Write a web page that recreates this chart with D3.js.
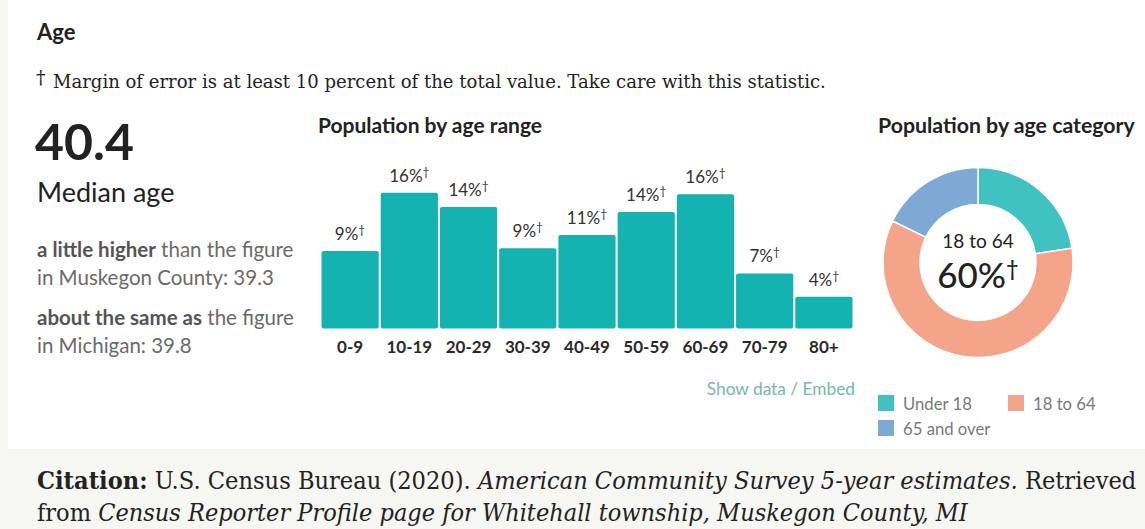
<!DOCTYPE html>
<html>
<head>
<meta charset="utf-8">
<script src="https://cdn.jsdelivr.net/npm/d3@7"></script>
<style>
  html, body { margin: 0; padding: 0; background: #f6f6f2; }
  svg { display: block; font-family: Lato, "Open Sans", sans-serif; }
</style>
</head>
<body>
<div id="chart"></div>
<script>
var w = 1145, h = 529;

// Data
var ageRanges = ["0-9", "10-19", "20-29", "30-39", "40-49", "50-59", "60-69", "70-79", "80+"];
var ageRangeValues = [9.15, 16.05, 14.35, 9.47, 11.04, 13.76, 15.86, 6.51, 3.74];
var ageCategories = ["Under 18", "18 to 64", "65 and over"];
var ageCategoryValues = [22.6, 59.6, 17.8];
var ageCategoryColors = ["#3fc2c0", "#f3a489", "#7fa9d5"];
var medianAge = "40.4";
var comparisons = [
  ["a little higher", " than the figure", "in Muskegon County: 39.3"],
  ["about the same as", " the figure", "in Michigan: 39.8"]
];

var svg = d3.select("#chart").append("svg")
  .attr("width", w)
  .attr("height", h);

// page / card backgrounds
svg.append("rect").attr("width", w).attr("height", h).attr("fill", "#f6f6f2");
svg.append("rect").attr("x", 8).attr("y", 0).attr("width", w - 8).attr("height", 449).attr("fill", "#fff");

// serif line squeezed horizontally into the width it has in the picture
function serifLine(x, y, size, width) {
  var g = svg.append("g");
  var t = g.append("text")
    .attr("x", 0).attr("y", 0)
    .attr("font-family", "DejaVu Serif, serif")
    .attr("font-size", size)
    .attr("fill", "#222");
  return {
    text: t,
    done: function() {
      var natural = t.node().getComputedTextLength();
      g.attr("transform", "translate(" + x + "," + y + ") scale(" + (width / natural) + ",1)");
    }
  };
}

// Header
svg.append("text")
  .attr("x", 37).attr("y", 40)
  .attr("font-size", 22).attr("font-weight", 700).attr("fill", "#222")
  .text("Age");

svg.append("text")
  .attr("x", 36).attr("y", 84)
  .attr("font-family", "DejaVu Serif, serif").attr("font-size", 19).attr("fill", "#222")
  .text("†");
var note = serifLine(53, 88, 18, 773);
note.text.text("Margin of error is at least 10 percent of the total value. Take care with this statistic.");
note.done();

// Left column: median age
svg.append("text")
  .attr("x", 35).attr("y", 160)
  .attr("font-size", 50).attr("font-weight", 700).attr("fill", "#222")
  .text(medianAge);
svg.append("text")
  .attr("x", 37).attr("y", 202)
  .attr("font-size", 27).attr("fill", "#222")
  .text("Median age");

comparisons.forEach(function(c, i) {
  var y0 = 257 + i * 68;
  var t = svg.append("text")
    .attr("x", 37).attr("y", y0)
    .attr("font-size", 20.5).attr("fill", "#6b6b6b");
  t.append("tspan").attr("font-weight", 700).attr("fill", "#555").text(c[0]);
  t.append("tspan").text(c[1]);
  svg.append("text")
    .attr("x", 37).attr("y", y0 + 28)
    .attr("font-size", 20.5).attr("fill", "#6b6b6b")
    .text(c[2]);
});

// Bar chart: population by age range
svg.append("text")
  .attr("x", 318).attr("y", 133)
  .attr("font-size", 21).attr("font-weight", 700).attr("fill", "#222")
  .text("Population by age range");

var xScale = d3.scaleBand()
  .domain(ageRanges)
  .range([321.5, 852.5])
  .paddingInner(0.034)
  .paddingOuter(0);

var yScale = d3.scaleLinear()
  .domain([0, d3.max(ageRangeValues)])
  .range([328.5, 192.7]);

var bars = svg.append("g").attr("class", "bars");

bars.selectAll("rect")
  .data(ageRangeValues)
  .enter()
  .append("rect")
  .attr("x", function(d, i) { return xScale(ageRanges[i]); })
  .attr("y", function(d) { return yScale(d); })
  .attr("width", xScale.bandwidth())
  .attr("height", function(d) { return yScale(0) - yScale(d); })
  .attr("rx", 2)
  .attr("fill", "#14b3b2");

var labels = bars.selectAll("text.value")
  .data(ageRangeValues)
  .enter()
  .append("text")
  .attr("class", "value")
  .attr("x", function(d, i) { return xScale(ageRanges[i]) + xScale.bandwidth() / 2; })
  .attr("y", function(d) { return yScale(d) - 11; })
  .attr("text-anchor", "middle")
  .attr("font-size", 17)
  .attr("fill", "#333");
labels.append("tspan").text(function(d) { return Math.round(d) + "%"; });
labels.append("tspan").attr("font-size", 12).attr("dy", -6).text("†");

var xAxis = d3.axisBottom(xScale).tickSize(0).tickPadding(0);
svg.append("g")
  .attr("class", "x_axis")
  .attr("transform", "translate(0, 353)")
  .call(xAxis)
  .call(function(g) {
    g.select(".domain").remove();
    g.selectAll("text")
      .attr("dy", 0)
      .attr("font-family", "Lato, sans-serif")
      .attr("font-size", 17)
      .attr("font-weight", 700)
      .attr("fill", "#2a2a2a");
  });

svg.append("text")
  .attr("x", 855).attr("y", 395)
  .attr("text-anchor", "end")
  .attr("font-size", 17.3).attr("fill", "#74bba9")
  .text("Show data / Embed");

// Donut: population by age category
svg.append("text")
  .attr("x", 878).attr("y", 133)
  .attr("font-size", 21.3).attr("font-weight", 700).attr("fill", "#222")
  .text("Population by age category");

var pie = d3.pie().sort(null);
var arc = d3.arc().innerRadius(58).outerRadius(95);

var donut = svg.append("g")
  .attr("transform", "translate(978, 262.5)");

donut.selectAll("path")
  .data(pie(ageCategoryValues))
  .enter()
  .append("path")
  .attr("d", arc)
  .attr("fill", function(d, i) { return ageCategoryColors[i]; })
  .attr("stroke", "#fff")
  .attr("stroke-width", 1.5);

donut.append("text")
  .attr("y", -15)
  .attr("text-anchor", "middle")
  .attr("font-size", 19).attr("fill", "#222")
  .text(ageCategories[1]);

var big = donut.append("text")
  .attr("x", 0)
  .attr("y", 25)
  .attr("text-anchor", "middle")
  .attr("font-size", 35).attr("font-weight", 500).attr("fill", "#222");
big.append("tspan").text(Math.round(ageCategoryValues[1]) + "%");
big.append("tspan").attr("font-size", 22).attr("dy", -12).text("†");

// Legend
var legendPos = [[878, 395], [1008, 395], [878, 420]];
var legend = svg.append("g").selectAll("g")
  .data(ageCategories)
  .enter()
  .append("g")
  .attr("transform", function(d, i) { return "translate(" + legendPos[i][0] + "," + legendPos[i][1] + ")"; });
legend.append("rect")
  .attr("width", 16).attr("height", 16)
  .attr("fill", function(d, i) { return ageCategoryColors[i]; });
legend.append("text")
  .attr("x", 25).attr("y", 15)
  .attr("font-size", 16.7).attr("fill", "#7a7a7a")
  .text(function(d) { return d; });

// Citation
var cite1 = serifLine(37, 489, 24, 1100);
cite1.text.append("tspan").attr("font-weight", 700).text("Citation:");
cite1.text.append("tspan").text(" U.S. Census Bureau (2020). ");
cite1.text.append("tspan").attr("font-style", "italic").text("American Community Survey 5-year estimates.");
cite1.text.append("tspan").text(" Retrieved");
cite1.done();

var cite2 = serifLine(37, 521, 24, 931);
cite2.text.append("tspan").text("from ");
cite2.text.append("tspan").attr("font-style", "italic").text("Census Reporter Profile page for Whitehall township, Muskegon County, MI");
cite2.done();
</script>
</body>
</html>
